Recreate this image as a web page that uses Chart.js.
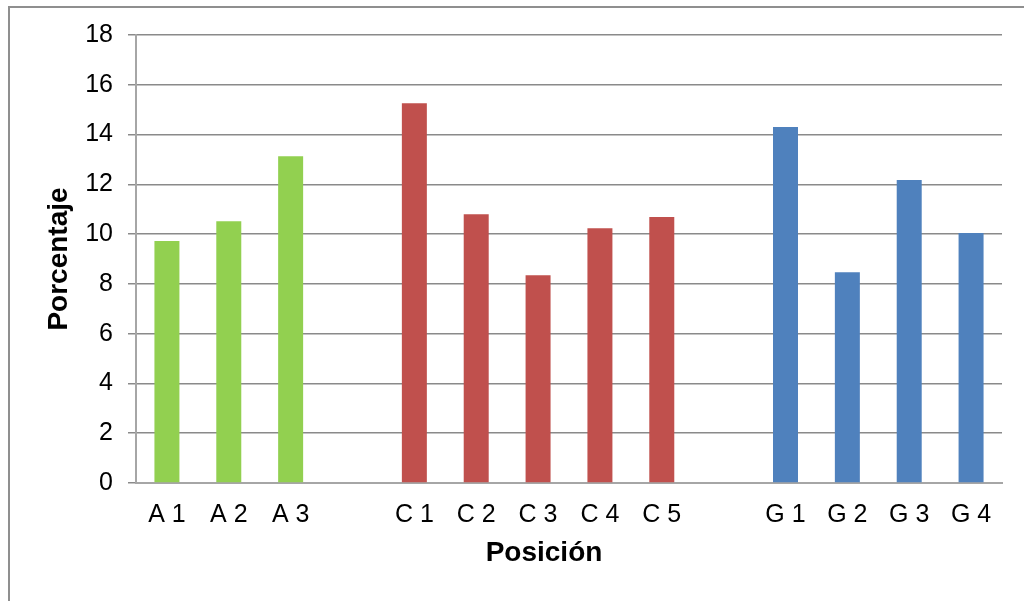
<!DOCTYPE html>
<html>
<head>
<meta charset="utf-8">
<script src="https://cdn.jsdelivr.net/npm/chart.js@4/dist/chart.umd.min.js"></script>
<style>
  html, body { margin: 0; padding: 0; background: #ffffff; }
  #wrap { width: 1024px; height: 601px; position: relative; }
</style>
</head>
<body>
<div id="wrap"><canvas id="chart" width="1024" height="601"></canvas></div>
<script>
// Category slots (empty strings leave a gap between position groups)
const categories = ['A 1', 'A 2', 'A 3', '', 'C 1', 'C 2', 'C 3', 'C 4', 'C 5', '', 'G 1', 'G 2', 'G 3', 'G 4'];

// Percentages per position group
const seriesA = [9.72, 10.52, 13.13];
const seriesC = [15.26, 10.8, 8.35, 10.24, 10.69];
const seriesG = [14.3, 8.47, 12.17, 10.04];

// Y axis range
const yMin = 0;
const yMax = 18;
const yStep = 2;

const axisTitleY = 'Porcentaje';
const axisTitleX = 'Posición';

// Place a group's values into its slots on the shared category axis
function placeGroup(values, startIndex) {
  const out = new Array(categories.length).fill(null);
  values.forEach((v, i) => { out[startIndex + i] = v; });
  return out;
}

const FONT = '"Liberation Sans", Arial, Helvetica, sans-serif';

// Outer frame and axis titles
const decorPlugin = {
  id: 'decor',
  afterDraw(chart) {
    const ctx = chart.ctx;
    const area = chart.chartArea;
    ctx.save();
    ctx.strokeStyle = '#8f8f8f';
    ctx.lineWidth = 2;
    ctx.beginPath();
    ctx.moveTo(9, 640);
    ctx.lineTo(9, 7);
    ctx.lineTo(1040, 7);
    ctx.stroke();

    ctx.fillStyle = '#000000';
    ctx.font = 'bold 28px ' + FONT;
    ctx.textAlign = 'center';
    ctx.textBaseline = 'middle';
    // Y title, rotated
    ctx.save();
    ctx.translate(59, (area.top + area.bottom) / 2);
    ctx.rotate(-Math.PI / 2);
    ctx.fillText(axisTitleY, 0, 0);
    ctx.restore();
    // X title
    ctx.fillText(axisTitleX, (area.left + area.right) / 2 - 25, 553);
    ctx.restore();
  }
};

const barStyle = { barPercentage: 0.404, categoryPercentage: 1.0, grouped: false, borderWidth: 0 };

new Chart(document.getElementById('chart'), {
  type: 'bar',
  data: {
    labels: categories,
    datasets: [
      Object.assign({ label: 'A', data: placeGroup(seriesA, 0), backgroundColor: '#92D050' }, barStyle),
      Object.assign({ label: 'C', data: placeGroup(seriesC, 4), backgroundColor: '#C0504D' }, barStyle),
      Object.assign({ label: 'G', data: placeGroup(seriesG, 10), backgroundColor: '#4F81BD' }, barStyle)
    ]
  },
  options: {
    responsive: false,
    animation: false,
    layout: { padding: { top: 35, right: 22, left: 0, bottom: 0 } },
    plugins: {
      legend: { display: false },
      tooltip: { enabled: false }
    },
    scales: {
      x: {
        grid: { display: false, drawTicks: false },
        border: { display: true, color: '#a6a6a6', width: 2 },
        ticks: {
          color: '#000000',
          font: { family: FONT, size: 25 },
          padding: 17,
          maxRotation: 0,
          autoSkip: false
        },
        afterFit(scale) { scale.height = 601 - 483; }
      },
      y: {
        min: yMin,
        max: yMax,
        grid: { color: '#8a8a8a', lineWidth: 1.5, tickLength: 8, drawTicks: true },
        border: { display: true, color: '#a6a6a6', width: 2 },
        ticks: {
          stepSize: yStep,
          color: '#000000',
          font: { family: FONT, size: 25 },
          padding: 15
        },
        afterFit(scale) { scale.width = 136; }
      }
    }
  },
  plugins: [decorPlugin]
});
</script>
</body>
</html>
